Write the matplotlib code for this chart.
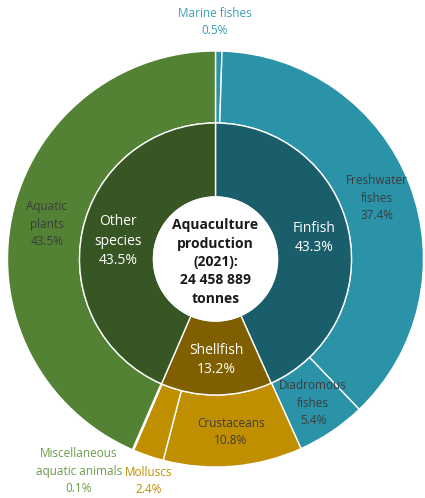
import matplotlib
matplotlib.use("Agg")
import matplotlib.pyplot as plt

plt.rcParams["font.family"] = ["Open Sans", "DejaVu Sans"]

# outer ring: species groups (clockwise from top)
outer_labels = ["Marine fishes", "Freshwater fishes", "Diadromous fishes", "Crustaceans",
                "Molluscs", "Miscellaneous aquatic animals", "Aquatic plants"]
outer_values = [0.5, 37.4, 5.4, 10.8, 2.4, 0.1, 43.5]
outer_colors = ["#2A93A8", "#2A93A8", "#2A93A8", "#BF8F00", "#BF8F00", "#BF8F00", "#548235"]

# inner ring: main groups
inner_labels = ["Finfish", "Shellfish", "Other species"]
inner_values = [43.3, 13.2, 43.5]
inner_colors = ["#1A5E6B", "#7F5F00", "#375623"]

center_text = "Aquaculture\nproduction\n(2021):\n24 458 889\ntonnes"

W, H = 425, 498
cx, cy = 215.5, H - 259
r_out, r_in, r_hole = 208, 136, 62

fig = plt.figure(figsize=(W / 100, H / 100), dpi=100)
ax = fig.add_axes([0, 0, 1, 1])

wp = dict(edgecolor="white", linewidth=1.0)
ax.pie(outer_values, colors=outer_colors, startangle=90, counterclock=False,
       radius=r_out, center=(cx, cy), wedgeprops=dict(width=r_out - r_in, **wp))
ax.pie(inner_values, colors=inner_colors, startangle=90, counterclock=False,
       radius=r_in, center=(cx, cy), wedgeprops=dict(width=r_in - r_hole, **wp))
ax.add_patch(plt.Circle((cx, cy), r_hole, color="white", zorder=5))

# pie() resets the limits, so set the pixel frame afterwards
ax.set_xlim(0, W)
ax.set_ylim(0, H)
ax.set_aspect("equal")
ax.axis("off")

ax.text(cx, cy - 3, center_text, ha="center", va="center", fontsize=10,
        fontweight="bold", color="#1a1a1a", linespacing=1.4, zorder=6)


def lab(x, y, s, color, size=8.5, ls=1.42):
    ax.text(x, H - y, s, ha="center", va="center", fontsize=size, color=color,
            linespacing=ls, zorder=6)


dark = "#3c3c3c"
lab(215, 22, f"Marine fishes\n{outer_values[0]}%", "#3A9DB2")
lab(377, 198, f"Freshwater\nfishes\n{outer_values[1]}%", dark)
lab(313, 403, f"Diadromous\nfishes\n{outer_values[2]}%", dark)
lab(231, 432, f"Crustaceans\n{outer_values[3]}%", dark)
lab(149, 481, f"Molluscs\n{outer_values[4]}%", "#BF8F00")
lab(79, 471, f"Miscellaneous\naquatic animals\n{outer_values[5]}%", "#6A9A4A")
lab(47, 224, f"Aquatic\nplants\n{outer_values[6]}%", dark)

lab(314, 238, f"Finfish\n{inner_values[0]}%", "white", size=10, ls=1.45)
lab(216, 360, f"Shellfish\n{inner_values[1]}%", "white", size=10, ls=1.45)
lab(118, 241, f"Other\nspecies\n{inner_values[2]}%", "white", size=10, ls=1.45)

fig.savefig("out.png", dpi=100)
